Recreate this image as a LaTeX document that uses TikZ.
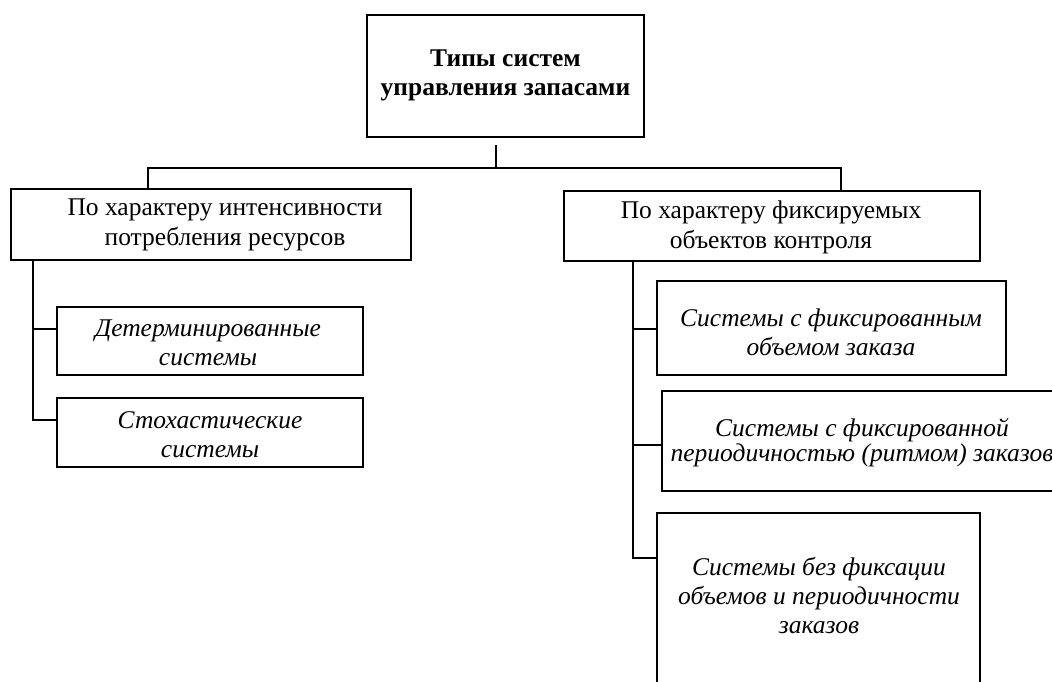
\documentclass[tikz,border=0pt]{standalone}
\usepackage{fontspec}
\setmainfont{Liberation Serif}
\begin{document}
\begin{tikzpicture}[x=1pt,y=-1pt,
  box/.style={draw,line width=1.6pt,inner sep=0pt},
  txt/.style={align=center,inner sep=0pt,font=\fontsize{25.5}{30}\selectfont},
  itxt/.style={txt,font=\fontsize{25.5}{29}\selectfont\itshape},
  link/.style={line width=1.6pt}]
\clip (0,0) rectangle (1052,682);
\fill[white] (0,0) rectangle (1052,682);

% root
\node[box,minimum width=277pt,minimum height=122pt] (root) at (505.5,76) {};
\node[txt,font=\fontsize{25.5}{29}\selectfont\bfseries] (roott) at (505.5,75) {Типы систем\\управления запасами};

% second level
\node[box,minimum width=400pt,minimum height=71pt] (lmid) at (211,224.5) {};
\node[txt] (lmidt) at (225,225) {По характеру интенсивности\\потребления ресурсов};
\node[box,minimum width=416pt,minimum height=70pt] (rmid) at (772,226) {};
\node[txt] (rmidt) at (771,227) {По характеру фиксируемых\\объектов контроля};

% left branch
\node[box,minimum width=306pt,minimum height=68pt] (det) at (210,341) {};
\node[itxt] (dett) at (208,343) {Детерминированные\\системы};
\node[box,minimum width=306pt,minimum height=69pt] (sto) at (210,432.5) {};
\node[itxt] (stot) at (210,435) {Стохастические\\системы};

% right branch
\node[box,minimum width=349pt,minimum height=94pt] (fv) at (831.5,328) {};
\node[itxt] (fvt) at (831,332) {Системы с фиксированным\\объемом заказа};
\node[box,minimum width=400pt,minimum height=100pt] (fp) at (862,441) {};
\node[itxt,font=\fontsize{25.5}{25}\selectfont\itshape] (fpt) at (862,443) {Системы с фиксированной\\периодичностью (ритмом) заказов};
\node[box,minimum width=323pt,minimum height=190pt] (nf) at (818.5,608) {};
\node[itxt] (nft) at (819,595) {Системы без фиксации\\объемов и периодичности\\заказов};

% connectors
\coordinate (bus) at (496,168);
\draw[link] ([yshift=-7pt]root.south -| bus) -- (bus);
\draw[link] ([xshift=-63pt]lmid.north) |- (bus) -| ([xshift=69pt]rmid.north);

\draw[link] ([xshift=23pt]lmid.south west) |- ([yshift=12pt]det.west);
\draw[link] ([xshift=23pt]lmid.south west) |- ([yshift=12.5pt]sto.west);

\draw[link] ([xshift=70pt]rmid.south west) |- ([yshift=-1pt]fv.west);
\draw[link] ([xshift=70pt]rmid.south west) |- ([yshift=-4pt]fp.west);
\draw[link] ([xshift=70pt]rmid.south west) |- ([yshift=-46pt]nf.north west);
\end{tikzpicture}
\end{document}
